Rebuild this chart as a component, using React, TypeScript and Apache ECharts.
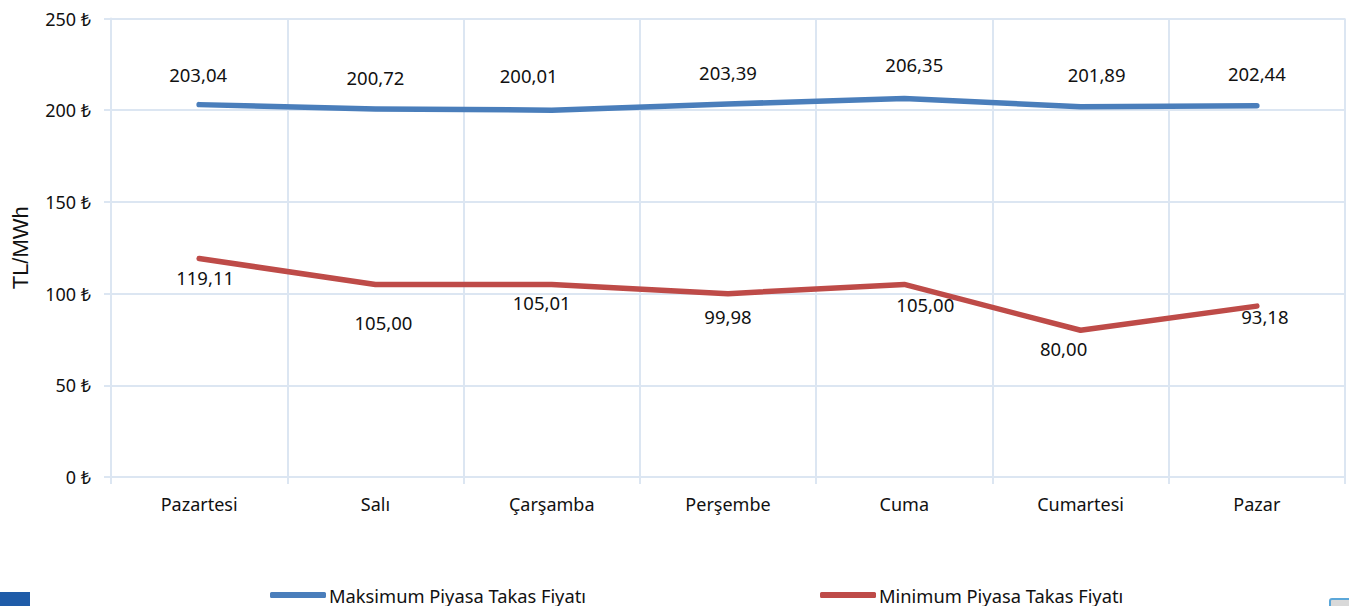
import React, { useEffect, useRef } from "react";
import * as echarts from "echarts";

const categories = ["Pazartesi", "Salı", "Çarşamba", "Perşembe", "Cuma", "Cumartesi", "Pazar"];
const maxPrices = [203.04, 200.72, 200.01, 203.39, 206.35, 201.89, 202.44];
const minPrices = [119.11, 105.0, 105.01, 99.98, 105.0, 80.0, 93.18];
const maxName = "Maksimum Piyasa Takas Fiyatı";
const minName = "Minimum Piyasa Takas Fiyatı";
const yTicks = [0, 50, 100, 150, 200, 250];
const maxLabelOffsets = [[-1, -30], [0, -31], [-23, -35], [0, -31], [10, -34], [16, -32], [0, -32]];
const minLabelOffsets = [[6, 19], [8, 38], [-10, 18], [0, 23], [21, 20], [-17, 18], [8, 10]];

const FONT = "'Noto Sans', 'DejaVu Sans', sans-serif";
const fmt = (v: number) => v.toFixed(2).replace(".", ",");

function seriesOf(name: string, values: number[], color: string, offsets: number[][]) {
  return {
    name,
    type: "line",
    data: values.map((value, i) => ({
      value,
      label: { offset: offsets[i] },
    })),
    showSymbol: true,
    symbol: "circle",
    symbolSize: 0,
    lineStyle: { color, width: 5.5, cap: "round", join: "round" },
    itemStyle: { color },
    label: {
      show: true,
      position: "inside",
      color: "#111",
      fontFamily: FONT,
      fontSize: 18.5,
      formatter: (p: any) => fmt(p.value),
    },
  };
}

export default function App() {
  const ref = useRef<HTMLDivElement>(null);
  useEffect(() => {
    const chart = echarts.init(ref.current!, undefined, { renderer: "svg" });
    chart.setOption({
      animation: false,
      backgroundColor: "#fff",
      grid: { left: 111, right: 4, top: 18.5, bottom: 129 },
      xAxis: {
        type: "category",
        data: categories,
        boundaryGap: true,
        axisLine: { show: true, lineStyle: { color: "#dce6f2", width: 2 } },
        axisTick: { show: true, alignWithLabel: false, length: 7, lineStyle: { color: "#dce6f2", width: 2 } },
        axisLabel: { color: "#111", fontFamily: FONT, fontSize: 18, margin: 18, interval: 0 },
        splitLine: { show: true, interval: 0, lineStyle: { color: "#dce6f2", width: 2 } },
      },
      yAxis: {
        type: "value",
        min: yTicks[0],
        max: yTicks[yTicks.length - 1],
        interval: 50,
        name: "TL/MWh",
        nameLocation: "middle",
        nameGap: 80,
        nameRotate: 90,
        nameTextStyle: { color: "#111", fontFamily: "'Liberation Sans', Arial, sans-serif", fontSize: 22 },
        axisLine: { show: true, lineStyle: { color: "#dce6f2", width: 2 } },
        axisTick: { show: true, length: 7, lineStyle: { color: "#dce6f2", width: 2 } },
        axisLabel: {
          color: "#111",
          fontFamily: FONT,
          fontSize: 18,
          margin: 20,
          formatter: (v: number) => `${v} ₺`,
        },
        splitLine: { show: true, lineStyle: { color: "#dce6f2", width: 2 } },
      },
      legend: {
        left: 265,
        top: 581,
        padding: [5, 5, 0, 5],
        itemWidth: 56,
        itemHeight: 6,
        itemGap: 234,
        icon: "roundRect",
        textStyle: { color: "#111", fontFamily: FONT, fontSize: 18.3, lineHeight: 18, padding: [0, 0, 0, -2] },
        data: [maxName, minName],
      },
      series: [
        seriesOf(maxName, maxPrices, "#4a7ebb", maxLabelOffsets),
        seriesOf(minName, minPrices, "#be4b48", minLabelOffsets),
      ],
      graphic: [
        { type: "rect", left: 0, top: 592, shape: { width: 30, height: 14 }, style: { fill: "#1f5ca8" } },
        { type: "rect", left: 1329, top: 598, shape: { width: 20, height: 8, r: [2, 0, 0, 0] }, style: { fill: "#d9d9d9", stroke: "#5ba7d9", lineWidth: 2 } },
      ],
    });
    return () => chart.dispose();
  }, []);
  return <div ref={ref} style={{ position: "fixed", left: 0, top: 0, width: 1349, height: 606 }} />;
}
